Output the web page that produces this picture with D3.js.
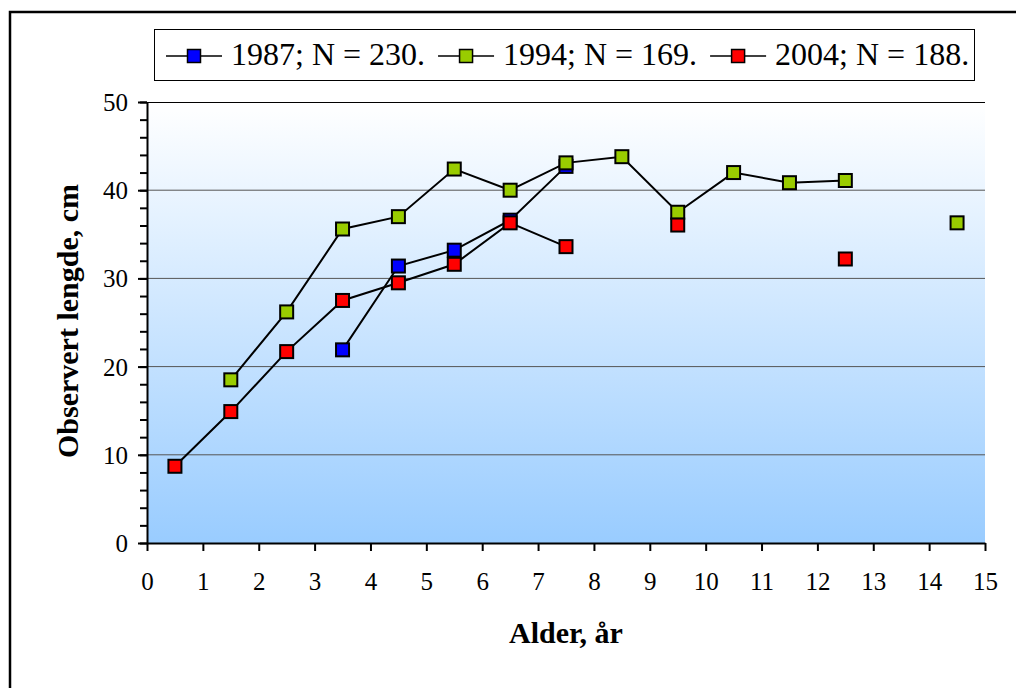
<!DOCTYPE html>
<html>
<head>
<meta charset="utf-8">
<script src="https://cdn.jsdelivr.net/npm/d3@7"></script>
<style>
  body { margin: 0; background: #fff; }
  svg { display: block; }
  text { font-family: "Liberation Serif", "Times New Roman", serif; fill: #000; }
</style>
</head>
<body>
<svg width="1016" height="688"></svg>
<script>
// ages (x) and observed lengths per survey; null = no observation
const ages = [0.5, 1.5, 2.5, 3.5, 4.5, 5.5, 6.5, 7.5, 8.5, 9.5, 10.5, 11.5, 12.5, 13.5, 14.5];
const len1987 = [null, null, null, 21.9, 31.4, 33.2, 36.6, 42.7, null, null, null, null, null, null, null];
const len1994 = [null, 18.5, 26.2, 35.6, 37.0, 42.4, 40.0, 43.1, 43.8, 37.5, 42.0, 40.85, 41.1, null, 36.3];
const len2004 = [8.7, 14.9, 21.7, 27.5, 29.5, 31.6, 36.3, 33.6, null, 36.05, null, null, 32.2, null, null];
const seriesNames = ['1987; N = 230.', '1994; N = 169.', '2004; N = 188.'];
const seriesColors = ['#0000ff', '#99cc00', '#ff0000'];
const xTicks = d3.range(0, 16);
const yTicks = [0, 10, 20, 30, 40, 50];
const yMinor = d3.range(0, 51, 2);

const series = [len1987, len1994, len2004].map((vals, i) => ({
  name: seriesNames[i],
  color: seriesColors[i],
  points: ages.map((a, j) => ({ age: a, v: vals[j] }))
}));

const svg = d3.select('svg');
const pLeft = 147, pRight = 985, pTop = 102, pBottom = 543;
const serif = '"Liberation Serif", "Times New Roman", serif';

let xScale = d3.scaleLinear().domain([0, 15]).range([pLeft, pRight]);
let yScale = d3.scaleLinear().domain([0, 50]).range([pBottom, pTop]);

// outer chart frame (runs off the right / bottom edge)
svg.append('rect')
    .attr('x', 10).attr('y', 12)
    .attr('width', 1200).attr('height', 900)
    .attr('fill', 'none')
    .attr('stroke', '#000')
    .attr('stroke-width', 2.5);

// plot area gradient
let grad = svg.append('defs').append('linearGradient')
    .attr('id', 'bg')
    .attr('x1', 0).attr('y1', 0).attr('x2', 0).attr('y2', 1);
grad.append('stop').attr('offset', '0%').attr('stop-color', '#ffffff');
grad.append('stop').attr('offset', '100%').attr('stop-color', '#99ccff');

svg.append('rect')
    .attr('x', pLeft).attr('y', pTop)
    .attr('width', pRight - pLeft).attr('height', pBottom - pTop)
    .attr('fill', 'url(#bg)');

// gridlines
svg.append('g')
    .selectAll('line')
    .data(yTicks.filter(t => t > 0 && t < 50))
    .enter()
    .append('line')
    .attr('x1', pLeft).attr('x2', pRight)
    .attr('y1', d => yScale(d)).attr('y2', d => yScale(d))
    .attr('stroke', '#555')
    .attr('stroke-width', 1);

// top border of plot area
svg.append('line')
    .attr('x1', pLeft).attr('x2', pRight)
    .attr('y1', pTop + 0.5).attr('y2', pTop + 0.5)
    .attr('stroke', '#000')
    .attr('stroke-width', 1);

// y axis: minor ticks, then major ticks with labels
svg.append('g')
    .attr('transform', `translate(${pLeft},0)`)
    .call(d3.axisLeft(yScale).tickValues(yMinor).tickSize(7).tickFormat(''))
    .call(g => g.select('.domain').remove())
    .selectAll('line').attr('stroke-width', 2);

let yAxis = svg.append('g')
    .attr('transform', `translate(${pLeft},0)`)
    .attr('font-family', serif)
    .call(d3.axisLeft(yScale).tickValues(yTicks).tickSize(9).tickSizeOuter(0).tickPadding(10));
yAxis.attr('font-family', serif).attr('font-size', 25);
yAxis.select('.domain').attr('stroke-width', 2);
yAxis.selectAll('line').attr('stroke-width', 2);
yAxis.selectAll('text')
    .style('font-family', serif)
    .style('font-size', '25px')
    .attr('dy', '0.34em');

// x axis
let xAxis = svg.append('g')
    .attr('transform', `translate(0,${pBottom})`)
    .call(d3.axisBottom(xScale).tickValues(xTicks).tickSize(8).tickSizeOuter(0));
xAxis.attr('font-family', serif).attr('font-size', 25);
xAxis.select('.domain').attr('stroke-width', 2);
xAxis.selectAll('line').attr('stroke-width', 2);
xAxis.selectAll('text')
    .style('font-family', serif)
    .style('font-size', '25px')
    .attr('y', 47)
    .attr('dy', null);

// axis titles
svg.append('text')
    .attr('x', (pLeft + pRight) / 2)
    .attr('y', 643)
    .style('font-size', '30px')
    .style('font-weight', 'bold')
    .style('text-anchor', 'middle')
    .text('Alder, år');

svg.append('text')
    .attr('transform', 'rotate(-90)')
    .attr('x', -321)
    .attr('y', 78)
    .style('font-size', '30px')
    .style('font-weight', 'bold')
    .style('text-anchor', 'middle')
    .text('Observert lengde, cm');

// series: lines then square markers
let line = d3.line()
    .defined(d => d.v != null)
    .x(d => xScale(d.age))
    .y(d => yScale(d.v));

const mk = 13;
series.forEach(s => {
  let g = svg.append('g');
  g.append('path')
      .datum(s.points)
      .attr('d', line)
      .attr('fill', 'none')
      .attr('stroke', '#000')
      .attr('stroke-width', 2);
  g.selectAll('rect')
      .data(s.points.filter(d => d.v != null))
      .enter()
      .append('rect')
      .attr('x', d => xScale(d.age) - mk / 2)
      .attr('y', d => yScale(d.v) - mk / 2)
      .attr('width', mk).attr('height', mk)
      .attr('fill', s.color)
      .attr('stroke', '#000')
      .attr('stroke-width', 2);
});

// legend
let legend = svg.append('g');
legend.append('rect')
    .attr('x', 154.5).attr('y', 29.5)
    .attr('width', 820).attr('height', 51)
    .attr('fill', '#fff')
    .attr('stroke', '#000')
    .attr('stroke-width', 1);

let lx = 166;
const ly = 56;
series.forEach(s => {
  let g = legend.append('g');
  g.append('line')
      .attr('x1', lx).attr('x2', lx + 56)
      .attr('y1', ly).attr('y2', ly)
      .attr('stroke', '#000')
      .attr('stroke-width', 1.5);
  g.append('rect')
      .attr('x', lx + 28 - mk / 2).attr('y', ly - mk / 2)
      .attr('width', mk).attr('height', mk)
      .attr('fill', s.color)
      .attr('stroke', '#000')
      .attr('stroke-width', 1.5);
  let t = g.append('text')
      .attr('x', lx + 65)
      .attr('y', 65)
      .style('font-family', serif)
      .style('font-size', '32px')
      .text(s.name);
  lx += 65 + t.node().getComputedTextLength() + 13;
});
</script>
</body>
</html>
